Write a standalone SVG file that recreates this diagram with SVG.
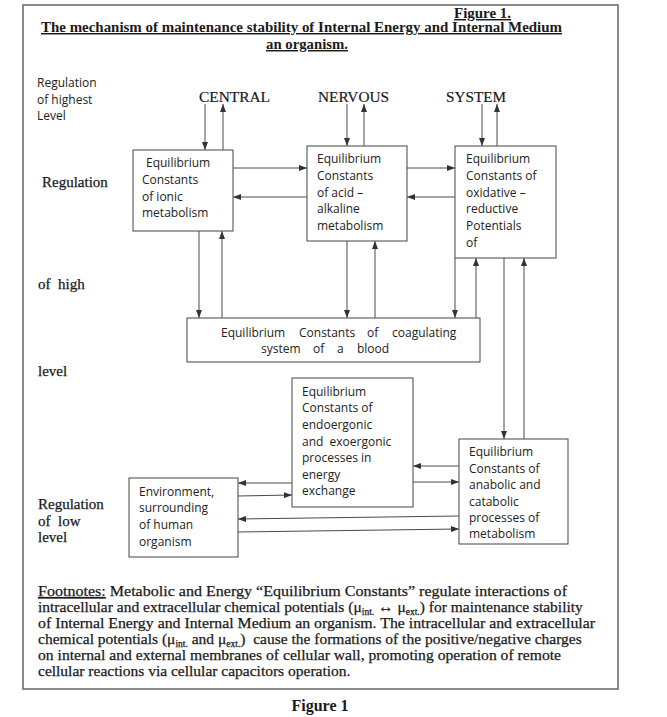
<svg xmlns="http://www.w3.org/2000/svg" width="667" height="717" viewBox="0 0 667 717">
<defs>
<style>
.box{fill:#fff;stroke:#555;stroke-width:1.1}
.frame{fill:none;stroke:#6e6e6e;stroke-width:1.6}
.con{fill:none;stroke:#4a4a4a;stroke-width:1}
.t{font-family:"Open Sans","Liberation Sans",sans-serif;font-size:12px;fill:#222}
.s{font-family:"Liberation Serif","Times New Roman",serif;fill:#1a1a1a}
.title{font-weight:bold;font-size:14.5px;text-decoration:underline}
.lab{font-size:15px;stroke:#1a1a1a;stroke-width:0.25}
.cns{font-size:15px;stroke:#1a1a1a;stroke-width:0.2}
.fn{font-size:15.5px;stroke:#1a1a1a;stroke-width:0.25}
.sub{font-size:9.5px}
</style>
<marker id="ah" viewBox="0 0 8 6" refX="8" refY="3" markerWidth="8" markerHeight="6" markerUnits="userSpaceOnUse" orient="auto">
<path d="M0,0 L8,3 L0,6 z" fill="#333"/>
</marker>
</defs>
<rect width="667" height="717" fill="#fff"/>
<rect class="frame" x="23" y="5" width="595" height="684"/>

<g id="titles">
<text class="s title" x="454" y="18" textLength="57" lengthAdjust="spacingAndGlyphs">Figure 1.</text>
<text class="s title" x="41" y="32" textLength="521" lengthAdjust="spacingAndGlyphs">The mechanism of maintenance stability of Internal Energy and Internal Medium</text>
<text class="s title" x="266" y="49" textLength="82" lengthAdjust="spacingAndGlyphs">an organism.</text>
</g>

<g id="level-labels">
<text class="t" x="37" y="87">Regulation</text>
<text class="t" x="37" y="104">of highest</text>
<text class="t" x="37" y="120">Level</text>
<text class="s lab" x="42" y="187">Regulation</text>
<text class="s lab" x="38" y="289" xml:space="preserve">of  high</text>
<text class="s lab" x="38" y="376">level</text>
<text class="s lab" x="38" y="509">Regulation</text>
<text class="s lab" x="38" y="526" xml:space="preserve">of  low</text>
<text class="s lab" x="38" y="542">level</text>
</g>

<g id="cns">
<text class="s cns" x="199" y="102" textLength="71" lengthAdjust="spacingAndGlyphs">CENTRAL</text>
<text class="s cns" x="318" y="102" textLength="71" lengthAdjust="spacingAndGlyphs">NERVOUS</text>
<text class="s cns" x="446" y="102" textLength="60" lengthAdjust="spacingAndGlyphs">SYSTEM</text>
</g>

<g id="connectors">
<path class="con" marker-end="url(#ah)" d="M205 104 V150"/>
<path class="con" marker-end="url(#ah)" d="M223 150 V104"/>
<path class="con" marker-end="url(#ah)" d="M347 104 V146"/>
<path class="con" marker-end="url(#ah)" d="M364 146 V104"/>
<path class="con" marker-end="url(#ah)" d="M482 104 V146"/>
<path class="con" marker-end="url(#ah)" d="M497 146 V104"/>
<path class="con" marker-end="url(#ah)" d="M233 168 H307"/>
<path class="con" marker-end="url(#ah)" d="M307 197 H233"/>
<path class="con" marker-end="url(#ah)" d="M407 168 H455"/>
<path class="con" marker-end="url(#ah)" d="M455 197 H407"/>
<path class="con" marker-end="url(#ah)" d="M199 231 V318"/>
<path class="con" marker-end="url(#ah)" d="M222 318 V231"/>
<path class="con" marker-end="url(#ah)" d="M347 241 V318"/>
<path class="con" marker-end="url(#ah)" d="M375 318 V241"/>
<path class="con" marker-end="url(#ah)" d="M455 258 V318"/>
<path class="con" marker-end="url(#ah)" d="M476 318 V258"/>
<path class="con" marker-end="url(#ah)" d="M504 258 V439"/>
<path class="con" marker-end="url(#ah)" d="M524 439 V258"/>
<path class="con" marker-end="url(#ah)" d="M459 466 H413"/>
<path class="con" marker-end="url(#ah)" d="M413 482 H459"/>
<path class="con" marker-end="url(#ah)" d="M292 483 H238"/>
<path class="con" marker-end="url(#ah)" d="M238 496 L292 495"/>
<path class="con" marker-end="url(#ah)" d="M459 516 L238 519"/>
<path class="con" marker-end="url(#ah)" d="M238 532 L459 529"/>
</g>

<g id="ionic">
<rect class="box" x="133" y="150" width="100" height="81"/>
<text class="t" x="146" y="167">Equilibrium</text>
<text class="t" x="142" y="184">Constants</text>
<text class="t" x="142" y="201">of ionic</text>
<text class="t" x="142" y="217">metabolism</text>
</g>

<g id="acid-alkaline">
<rect class="box" x="307" y="146" width="100" height="95"/>
<text class="t" x="317" y="163">Equilibrium</text>
<text class="t" x="317" y="180">Constants</text>
<text class="t" x="317" y="197">of acid –</text>
<text class="t" x="317" y="213">alkaline</text>
<text class="t" x="317" y="230">metabolism</text>
</g>

<g id="oxidative">
<rect class="box" x="455" y="146" width="101" height="112"/>
<text class="t" x="466" y="163">Equilibrium</text>
<text class="t" x="466" y="180">Constants of</text>
<text class="t" x="466" y="197">oxidative –</text>
<text class="t" x="466" y="213">reductive</text>
<text class="t" x="466" y="230">Potentials</text>
<text class="t" x="466" y="247">of</text>
</g>

<g id="coagulating">
<rect class="box" x="187" y="318" width="293" height="44"/>
<text class="t" y="337"><tspan x="221">Equilibrium</tspan><tspan x="299">Constants</tspan><tspan x="367">of</tspan><tspan x="392">coagulating</tspan></text>
<text class="t" y="353"><tspan x="261">system</tspan><tspan x="313">of</tspan><tspan x="337">a</tspan><tspan x="357">blood</tspan></text>
</g>

<g id="endoergonic">
<rect class="box" x="292" y="378" width="121" height="129"/>
<text class="t" x="302" y="396">Equilibrium</text>
<text class="t" x="302" y="412">Constants of</text>
<text class="t" x="302" y="429">endoergonic</text>
<text class="t" x="302" y="446" xml:space="preserve">and  exoergonic</text>
<text class="t" x="302" y="462">processes in</text>
<text class="t" x="302" y="479">energy</text>
<text class="t" x="302" y="495">exchange</text>
</g>

<g id="anabolic">
<rect class="box" x="459" y="439" width="109" height="105"/>
<text class="t" x="469" y="456">Equilibrium</text>
<text class="t" x="469" y="473">Constants of</text>
<text class="t" x="469" y="489">anabolic and</text>
<text class="t" x="469" y="506">catabolic</text>
<text class="t" x="469" y="522">processes of</text>
<text class="t" x="469" y="538">metabolism</text>
</g>

<g id="environment">
<rect class="box" x="129" y="478" width="109" height="79"/>
<text class="t" x="139" y="496">Environment,</text>
<text class="t" x="139" y="512">surrounding</text>
<text class="t" x="139" y="529">of human</text>
<text class="t" x="139" y="546">organism</text>
</g>

<g id="footnotes">
<text class="s fn" x="38" y="596" textLength="529" lengthAdjust="spacingAndGlyphs"><tspan text-decoration="underline">Footnotes:</tspan> Metabolic and Energy “Equilibrium Constants” regulate interactions of</text>
<text class="s fn" x="38" y="612">intracellular and extracellular chemical potentials (μ<tspan class="sub" baseline-shift="-3">int.</tspan> ↔ μ<tspan class="sub" baseline-shift="-3">ext.</tspan>) for maintenance stability</text>
<text class="s fn" x="38" y="628" textLength="557" lengthAdjust="spacingAndGlyphs">of Internal Energy and Internal Medium an organism. The intracellular and extracellular</text>
<text class="s fn" x="38" y="644" xml:space="preserve">chemical potentials (μ<tspan class="sub" baseline-shift="-3">int.</tspan> and μ<tspan class="sub" baseline-shift="-3">ext.</tspan>)  cause the formations of the positive/negative charges</text>
<text class="s fn" x="38" y="660" textLength="523" lengthAdjust="spacingAndGlyphs">on internal and external membranes of cellular wall, promoting operation of remote</text>
<text class="s fn" x="38" y="676">cellular reactions via cellular capacitors operation.</text>
</g>

<text class="s" x="320" y="711" font-size="16" font-weight="bold" text-anchor="middle">Figure 1</text>
</svg>
